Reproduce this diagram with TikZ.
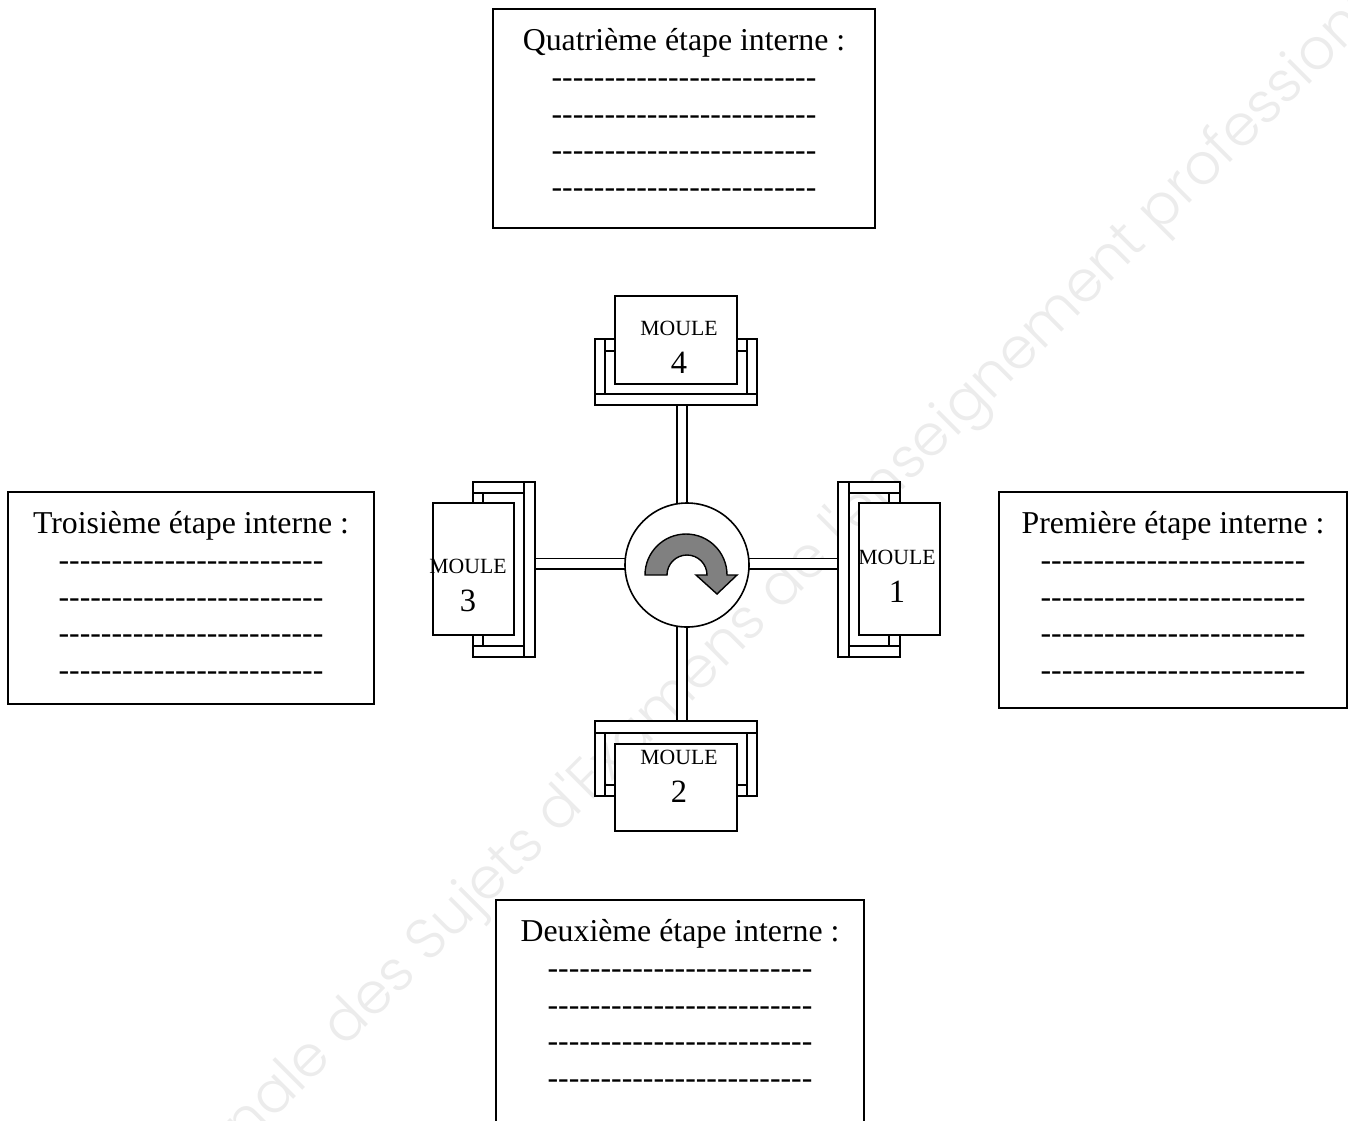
\documentclass[tikz,border=0pt]{standalone}
\usepackage{fontspec}
\setmainfont{Liberation Serif}
\newfontfamily\filigrane{Poppins Light}
\usetikzlibrary{positioning}
\newcommand{\cinqtirets}{-\kern0pt-\kern0pt-\kern0pt-\kern0pt-\kern0pt}
\newcommand{\tirets}{\cinqtirets\cinqtirets\cinqtirets\cinqtirets\cinqtirets}
\newcommand{\lignes}{\tirets\\\tirets\\\tirets\\\tirets}
\begin{document}
\begin{tikzpicture}[x=1pt,y=-1pt]

          % Setup the styles
          \tikzset{piece/.style={draw,
                                 line width=1.6pt,
                                 fill=white,
                                 rectangle,
                                 inner sep=0pt},
                   cadre/.style={piece, line width=2pt},
                   etape/.style={align=center,
                                 inner sep=0pt,
                                 font=\fontsize{31.8}{36.6}\selectfont},
                   moule/.style={align=center,
                                 inner sep=0pt,
                                 font=\fontsize{21.7}{38}\selectfont},
                   bras/.style={draw,
                                line width=1.6pt,
                                double=white,
                                double distance=8.8pt}}
          \useasboundingbox (0, 0) rectangle (1348, 1120);
          \clip (0, 0) rectangle (1348, 1120);

          % Watermark behind everything
          \node[rotate=45, text=black!7.5, inner sep=0pt,
                font=\filigrane\fontsize{57}{57}\selectfont] at (809, 563) (filigrane)
                {nale des Sujets d'Examens de l'enseignement professionn};

          % Draw the text boxes
          \node[cadre, minimum width=382pt, minimum height=219pt] at (684, 118.5) (quatre) {};
          \node[cadre, minimum width=366pt, minimum height=212pt] at (191, 598) (trois) {};
          \node[cadre, minimum width=348pt, minimum height=216pt] at (1173, 600) (premiere) {};
          \node[cadre, minimum width=368pt, minimum height=260pt] at (680, 1030) (deux) {};
          \node[etape, below=20.5pt of quatre.north] (txtquatre) {Quatrième étape interne :\\\lignes};
          \node[etape, below=20.5pt of trois.north] (txttrois) {Troisième étape interne :\\\lignes};
          \node[etape, below=20.5pt of premiere.north] (txtpremiere) {Première étape interne :\\\lignes};
          \node[etape, below=20.5pt of deux.north] (txtdeux) {Deuxième étape interne :\\\lignes};

          % Connect the hub with the holders (the arms pass under the hub)
          \coordinate (axev) at (682, 565);
          \coordinate (axeh) at (687, 563.7);
          \coordinate (fin4) at (682, 405);
          \coordinate (fin2) at (682, 721);
          \coordinate (fin3) at (535, 563.7);
          \coordinate (fin1) at (838, 563.7);
          \draw[bras] (axev) -- (fin4);
          \draw[bras] (axev) -- (fin2);
          \draw[bras] (axeh) -- (fin3);
          \draw[bras] (axeh) -- (fin1);

          % Draw the hub
          \node[draw, circle, line width=1.6pt, fill=white, minimum size=124pt, inner sep=0pt] at (687, 565) (hub) {};

          % Draw the holders
          \node[piece, minimum width=162pt, minimum height=11pt] at (676, 399.5) (socle4) {};
          \node[piece, minimum width=10pt, minimum height=55pt] at (600, 366.5) (g4) {};
          \node[piece, minimum width=10pt, minimum height=55pt] at (752, 366.5) (d4) {};
          \node[piece, minimum width=10pt, minimum height=12pt] at (610, 345) (pg4) {};
          \node[piece, minimum width=10pt, minimum height=12pt] at (742, 345) (pd4) {};

          \node[piece, minimum width=162pt, minimum height=12pt] at (676, 727) (socle2) {};
          \node[piece, minimum width=10pt, minimum height=63pt] at (600, 764.5) (g2) {};
          \node[piece, minimum width=10pt, minimum height=63pt] at (752, 764.5) (d2) {};
          \node[piece, minimum width=10pt, minimum height=11pt] at (610, 790.5) (pg2) {};
          \node[piece, minimum width=10pt, minimum height=11pt] at (742, 790.5) (pd2) {};

          \node[piece, minimum width=11pt, minimum height=175pt] at (529.5, 569.5) (socle3) {};
          \node[piece, minimum width=51pt, minimum height=11pt] at (498.5, 487.5) (h3) {};
          \node[piece, minimum width=51pt, minimum height=11pt] at (498.5, 651.5) (b3) {};
          \node[piece, minimum width=10pt, minimum height=10pt] at (478, 498) (ph3) {};
          \node[piece, minimum width=10pt, minimum height=11pt] at (478, 640.5) (pb3) {};

          \node[piece, minimum width=11pt, minimum height=175pt] at (843.5, 569.5) (socle1) {};
          \node[piece, minimum width=51pt, minimum height=11pt] at (874.5, 487.5) (h1) {};
          \node[piece, minimum width=51pt, minimum height=11pt] at (874.5, 651.5) (b1) {};
          \node[piece, minimum width=11pt, minimum height=10pt] at (894.5, 498) (ph1) {};
          \node[piece, minimum width=11pt, minimum height=11pt] at (894.5, 640.5) (pb1) {};

          % Draw the moulds
          \node[piece, minimum width=122pt, minimum height=88pt] at (676, 340) (carre4) {};
          \node[piece, minimum width=122pt, minimum height=87pt] at (676, 787.5) (carre2) {};
          \node[piece, minimum width=81pt, minimum height=132pt] at (473.5, 569) (carre3) {};
          \node[piece, minimum width=81pt, minimum height=132pt] at (899.5, 569) (carre1) {};
          \node[moule] at (679, 347) (moule4) {MOULE\\{\fontsize{32.5}{38}\selectfont 4}};
          \node[moule] at (679, 776) (moule2) {MOULE\\{\fontsize{32.5}{38}\selectfont 2}};
          \node[moule] at (468, 585) (moule3) {MOULE\\{\fontsize{32.5}{38}\selectfont 3}};
          \node[moule] at (897, 576) (moule1) {MOULE\\{\fontsize{32.5}{38}\selectfont 1}};

          % Draw the rotation arrow
          \draw[line width=1.4pt, fill=black!50]
             (645, 575) arc[start angle=180, end angle=0, radius=41pt]
             -- (737, 575) -- (717, 594) -- (696, 575) -- (707, 575)
             arc[start angle=0, end angle=180, radius=20pt] -- cycle;
      \end{tikzpicture}
\end{document}
